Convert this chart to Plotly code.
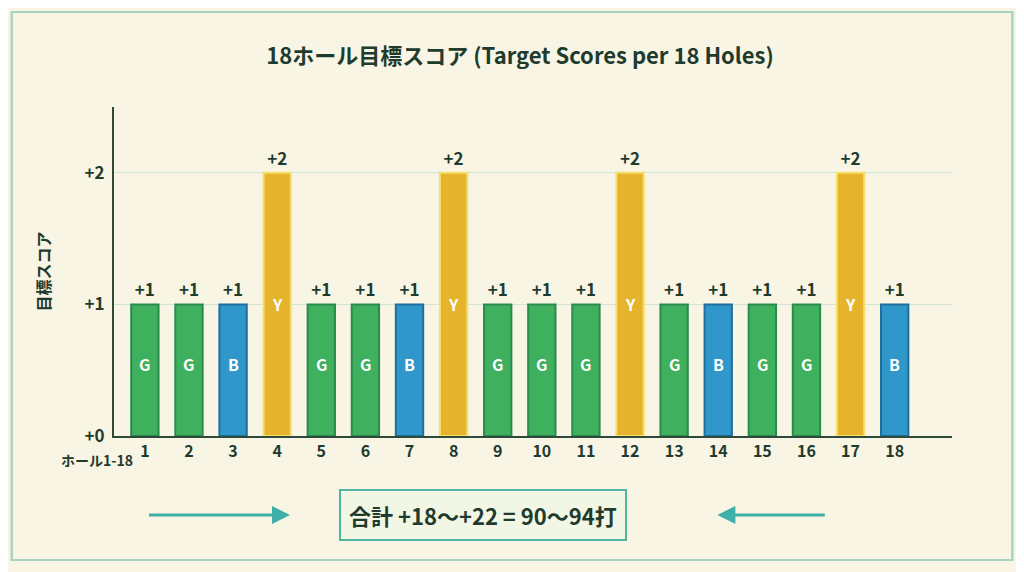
import plotly.graph_objects as go

holes = list(range(1, 19))
values = [1, 1, 1, 2, 1, 1, 1, 2, 1, 1, 1, 2, 1, 1, 1, 1, 2, 1]
kinds = ["G", "G", "B", "Y", "G", "G", "B", "Y", "G", "G", "G", "Y", "G", "B", "G", "G", "Y", "B"]
value_labels = ["<b>+1</b>" if v == 1 else "<b>+2</b>" for v in values]
y_ticks = [0, 1, 2]
y_tick_text = ["<b>+0</b>", "<b>+1</b>", "<b>+2</b>"]

fill = {"G": "#3fb05e", "B": "#2f97c9", "Y": "#e5b42c"}
edge = {"G": "#2a8a4c", "B": "#1f6f9c", "Y": "#f7df6a"}
F = "Noto Sans CJK JP"
INK = "#1f3b2e"

fig = go.Figure()
fig.add_bar(
    x=holes, y=values, width=0.62,
    marker=dict(color=[fill[k] for k in kinds],
                line=dict(color=[edge[k] for k in kinds], width=2)),
    text=value_labels, textposition="outside", cliponaxis=False,
    textfont=dict(family=F, size=17, color=INK),
    hoverinfo="skip",
)
for h, v, k in zip(holes, values, kinds):
    fig.add_annotation(x=h, y=0.55 if v == 1 else 1.0, text=f"<b>{k}</b>", showarrow=False,
                       font=dict(family=F, size=16, color="white"))

fig.add_hline(y=1.5, line=dict(color="#9fd3b5", width=1, dash="dash"))
fig.add_hline(y=0.55, line=dict(color="#cfe0c8", width=1, dash="dash"))

fig.update_layout(
    width=1024, height=572,
    paper_bgcolor="#f8f5e4", plot_bgcolor="#f8f5e4",
    margin=dict(l=106, r=80, t=99, b=144, autoexpand=False),
    showlegend=False,
    title=dict(text="<b>18ホール目標スコア (Target Scores per 18 Holes)</b>", x=0.5, y=0.915,
               xanchor="center", yanchor="middle", font=dict(family=F, size=22, color=INK)),
    xaxis=dict(range=[0.3, 19.3], tickmode="array", tickvals=holes,
               ticktext=[f"<b>{h}</b>" for h in holes], automargin=False,
               showgrid=False, zeroline=False, showline=True, linecolor="#2d4a3a", linewidth=2,
               tickfont=dict(family=F, size=16, color=INK)),
    yaxis=dict(range=[0, 2.5], tickmode="array", tickvals=y_ticks, ticktext=y_tick_text,
               automargin=False, showgrid=True, gridcolor="#cfe3d6", zeroline=False, showline=True,
               linecolor="#2d4a3a", linewidth=2, ticklabelstandoff=4,
               title=dict(text="<b>目標スコア</b>", standoff=30, font=dict(family=F, size=16, color=INK)),
               tickfont=dict(family=F, size=17, color=INK)),
    shapes=[dict(type="rect", xref="paper", yref="paper", x0=-0.122, x1=1.072, y0=-0.377, y1=1.289,
                 line=dict(color="#a9d3c1", width=2, dash="solid"), fillcolor="rgba(0,0,0,0)",
                 layer="below")],
)
fig.add_annotation(xref="paper", yref="paper", x=0.025, y=-0.072, xanchor="right", yanchor="middle",
                   showarrow=False, text="<b>ホール1-18</b>", font=dict(family=F, size=14, color=INK))
fig.add_annotation(xref="paper", yref="paper", x=0.44, y=-0.24, yanchor="middle", showarrow=False,
                   text="<b>合計 +18〜+22 = 90〜94打</b>",
                   font=dict(family=F, size=22, color=INK),
                   bgcolor="#f2f6e4", bordercolor="#4fb7a0", borderwidth=2, borderpad=8)
for x0, x1 in [(0.04, 0.21), (0.85, 0.72)]:
    fig.add_annotation(xref="x domain", yref="y domain", axref="x domain", ayref="y domain",
                       x=x1, y=-0.24, ax=x0, ay=-0.24, text="",
                       arrowhead=2, arrowsize=1.2, arrowwidth=3, arrowcolor="#3fb0a8")
fig.write_html("out.html")
